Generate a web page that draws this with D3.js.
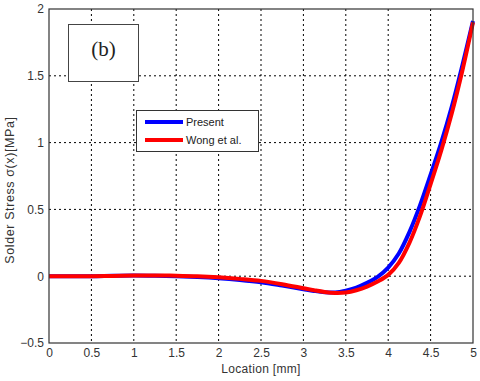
<!DOCTYPE html>
<html>
<head>
<meta charset="utf-8">
<script src="https://cdn.jsdelivr.net/npm/d3@7"></script>
<style>
  body { margin: 0; background: #fff; }
  text { font-family: "Liberation Sans", Arial, sans-serif; }
  .tick text { fill: #333; font-size: 12px; }
  .grid line { stroke: #000; stroke-dasharray: 2,3; stroke-width: 1; }
</style>
</head>
<body>
<div class="chart"></div>
<script>
// values
const xTicks = [0, 0.5, 1, 1.5, 2, 2.5, 3, 3.5, 4, 4.5, 5];
const yTicks = [-0.5, 0, 0.5, 1, 1.5, 2];

const presentX = [0, 0.5, 0.75, 1.0, 1.25, 1.5, 1.75, 2.0, 2.25, 2.5, 2.75, 3.0, 3.125, 3.25, 3.375, 3.5, 3.625, 3.75, 3.875, 4.0, 4.125, 4.25, 4.375, 4.5, 4.625, 4.75, 4.875, 5.0];
const presentY = [0, 0, 0.004, 0.006, 0.004, 0.0, -0.006, -0.015, -0.028, -0.045, -0.07, -0.097, -0.11, -0.12, -0.122, -0.108, -0.085, -0.05, -0.005, 0.065, 0.17, 0.33, 0.53, 0.76, 1.0, 1.27, 1.58, 1.91];

const wongX = [0, 0.5, 0.75, 1.0, 1.25, 1.5, 1.75, 2.0, 2.25, 2.5, 2.75, 3.0, 3.125, 3.25, 3.375, 3.5, 3.625, 3.75, 3.875, 4.0, 4.125, 4.25, 4.375, 4.5, 4.625, 4.75, 4.875, 5.0];
const wongY = [0, 0, 0.002, 0.005, 0.006, 0.004, 0.0, -0.008, -0.02, -0.035, -0.06, -0.09, -0.105, -0.118, -0.125, -0.122, -0.105, -0.078, -0.04, 0.01, 0.1, 0.25, 0.45, 0.69, 0.94, 1.22, 1.54, 1.9];

let width = 480,
  height = 381,
  margin = {top: 9, right: 7, bottom: 38, left: 49};

let w = width - margin.left - margin.right,
  h = height - margin.top - margin.bottom;

let svg = d3.select(".chart")
  .append("svg")
  .attr("width", width)
  .attr("height", height);

let g = svg.append("g")
  .attr("transform", `translate(${margin.left},${margin.top})`);

let xScale = d3.scaleLinear().domain([0, 5]).range([0, w]);
let yScale = d3.scaleLinear().domain([-0.5, 2]).range([h, 0]);

// grid
g.append("g")
  .attr("class", "grid")
  .selectAll("line")
  .data(xTicks.slice(1, -1))
  .enter().append("line")
  .attr("x1", d => xScale(d)).attr("x2", d => xScale(d))
  .attr("y1", 0).attr("y2", h);

g.append("g")
  .attr("class", "grid")
  .selectAll("line")
  .data(yTicks.slice(1, -1))
  .enter().append("line")
  .attr("y1", d => yScale(d)).attr("y2", d => yScale(d))
  .attr("x1", 0).attr("x2", w);

// curves
let line = d3.line()
  .x(d => xScale(d[0]))
  .y(d => yScale(d[1]))
  .curve(d3.curveCatmullRom.alpha(0.5));

g.append("path")
  .datum(d3.zip(presentX, presentY))
  .attr("d", line)
  .attr("fill", "none")
  .attr("stroke", "#0000ff")
  .attr("stroke-width", 4);

g.append("path")
  .datum(d3.zip(wongX, wongY))
  .attr("d", line)
  .attr("fill", "none")
  .attr("stroke", "#ff0000")
  .attr("stroke-width", 4);

// axes
let xAxis = d3.axisBottom(xScale).tickValues(xTicks).tickSize(0).tickPadding(5).tickFormat(d3.format("~g"));
let yAxis = d3.axisLeft(yScale).tickValues(yTicks).tickSize(0).tickPadding(5).tickFormat(d3.format("~g"));

g.append("g")
  .attr("transform", `translate(0,${h})`)
  .call(xAxis)
  .call(a => a.select(".domain").remove());

g.append("g")
  .call(yAxis)
  .call(a => a.select(".domain").remove());

// frame
g.append("rect")
  .attr("width", w)
  .attr("height", h)
  .attr("fill", "none")
  .attr("stroke", "#333")
  .attr("stroke-width", 1.2);

// axis titles
svg.append("text")
  .attr("text-anchor", "middle")
  .attr("x", margin.left + w / 2)
  .attr("y", 373)
  .attr("font-size", 12)
  .attr("letter-spacing", 0.3)
  .attr("fill", "#333")
  .text("Location [mm]");

svg.append("text")
  .attr("text-anchor", "middle")
  .attr("transform", "translate(14,190)rotate(-90)")
  .attr("font-size", 12.5)
  .attr("letter-spacing", 0.6)
  .attr("fill", "#333")
  .text("Solder Stress σ(x)[MPa]");

// (b) label box
svg.append("rect")
  .attr("x", 68.5).attr("y", 24.5)
  .attr("width", 70).attr("height", 57)
  .attr("fill", "#fff")
  .attr("stroke", "#444");

svg.append("text")
  .attr("x", 103.5).attr("y", 56)
  .attr("text-anchor", "middle")
  .style("font-family", "'Liberation Serif', serif")
  .attr("font-size", 21)
  .attr("fill", "#222")
  .text("(b)");

// legend
let legend = svg.append("g");
legend.append("rect")
  .attr("x", 136.5).attr("y", 110.5)
  .attr("width", 122).attr("height", 41)
  .attr("fill", "#fff")
  .attr("stroke", "#333");

let legendItems = [["Present", "#0000ff"], ["Wong et al.", "#ff0000"]];
legendItems.forEach((d, i) => {
  legend.append("line")
    .attr("x1", 145).attr("x2", 183)
    .attr("y1", 122 + i * 18).attr("y2", 122 + i * 18)
    .attr("stroke", d[1])
    .attr("stroke-width", 4);
  legend.append("text")
    .attr("x", 186)
    .attr("y", 122 + i * 18)
    .attr("dy", "0.35em")
    .attr("font-size", 11)
    .attr("fill", "#222")
    .text(d[0]);
});
</script>
</body>
</html>
